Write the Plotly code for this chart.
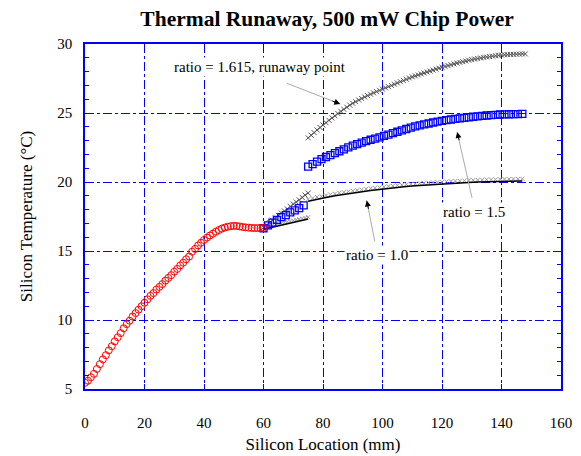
import plotly.graph_objects as go

# ---------------- data ----------------
# upstream region (0..60 mm), 1 mm sampling
x_up = list(range(0, 61))
t_up = [5.45, 5.60, 5.85, 6.10, 6.45, 6.80, 7.15, 7.45, 7.80, 8.10,
        8.45, 8.75, 9.05, 9.40, 9.70, 9.95, 10.25, 10.50, 10.75, 11.00,
        11.25, 11.50, 11.75, 11.95, 12.20, 12.40, 12.60, 12.85, 13.05, 13.25,
        13.50, 13.70, 13.95, 14.15, 14.40, 14.60, 14.95, 15.15, 15.40, 15.60,
        15.80, 15.97, 16.12, 16.26, 16.40, 16.52, 16.62, 16.70, 16.76, 16.80,
        16.82, 16.81, 16.78, 16.74, 16.71, 16.69, 16.67, 16.66, 16.66, 16.66,
        16.67]

# first downstream segment (60..75 mm)
x_s1_line = [60, 62, 64, 66, 68, 70, 72, 74, 75]
t_r10_s1_line = [16.58, 16.68, 16.78, 16.88, 16.98, 17.08, 17.18, 17.28, 17.32]
x_s1_hatch = [60, 61, 62, 63, 64, 65, 66, 67, 68, 69, 70, 71, 72, 73, 74, 75]
t_r10_s1_hatch = [16.70, 16.75, 16.80, 16.86, 16.91, 16.96, 17.01, 17.06, 17.11, 17.16,
                  17.21, 17.26, 17.31, 17.36, 17.41, 17.45]
t_r1615_s1 = [16.70, 16.88, 17.05, 17.23, 17.40, 17.58, 17.75, 17.90, 18.05, 18.23,
              18.40, 18.55, 18.70, 18.88, 19.05, 19.20]
x_r15_s1 = [60, 61.5, 63, 64.5, 66, 67.5, 69, 70.5, 72, 73.5]
t_r15_s1 = [16.65, 16.85, 17.05, 17.25, 17.45, 17.60, 17.80, 17.95, 18.10, 18.30]

# second downstream segment (75..148 mm)
x_r1615_s2 = list(range(75, 149))
t_r1615_s2 = [23.20, 23.39, 23.58, 23.77, 23.95, 24.13, 24.30, 24.47, 24.64, 24.80,
              24.96, 25.12, 25.27, 25.42, 25.57, 25.70, 25.82, 25.94, 26.05, 26.16,
              26.26, 26.36, 26.46, 26.55, 26.64, 26.73, 26.82, 26.91, 27.00, 27.09,
              27.18, 27.27, 27.36, 27.45, 27.54, 27.62, 27.69, 27.76, 27.83, 27.90,
              27.97, 28.04, 28.11, 28.18, 28.25, 28.32, 28.38, 28.44, 28.50, 28.56,
              28.62, 28.67, 28.72, 28.77, 28.82, 28.87, 28.91, 28.95, 28.99, 29.03,
              29.06, 29.09, 29.12, 29.15, 29.18, 29.20, 29.22, 29.23, 29.24, 29.25,
              29.26, 29.27, 29.28, 29.28]

x_s2_15 = [75 + 1.5 * i for i in range(49)]
t_r15_s2 = [21.11, 21.30, 21.48, 21.66, 21.81, 21.95, 22.09, 22.23, 22.37, 22.51,
            22.63, 22.74, 22.85, 22.96, 23.06, 23.15, 23.24, 23.34, 23.44, 23.54,
            23.64, 23.74, 23.84, 23.94, 24.03, 24.10, 24.17, 24.24, 24.31, 24.37,
            24.43, 24.48, 24.53, 24.57, 24.61, 24.65, 24.69, 24.73, 24.76, 24.79,
            24.82, 24.85, 24.87, 24.89, 24.90, 24.91, 24.92, 24.92, 24.93]
t_r10_s2_hatch = [18.75, 18.83, 18.91, 18.97, 19.03, 19.09, 19.15, 19.21, 19.26, 19.31,
                  19.36, 19.41, 19.45, 19.50, 19.54, 19.58, 19.61, 19.65, 19.69, 19.72,
                  19.76, 19.79, 19.82, 19.85, 19.87, 19.90, 19.92, 19.95, 19.97, 19.99,
                  20.01, 20.03, 20.05, 20.07, 20.09, 20.10, 20.12, 20.13, 20.15, 20.16,
                  20.17, 20.18, 20.19, 20.20, 20.21, 20.21, 20.22, 20.22, 20.23]

x_r10_s2_line = [75, 78, 81, 84, 87, 90, 93, 96, 99, 102, 105, 108, 111, 114, 117,
                 120, 123, 126, 129, 132, 135, 138, 141, 144, 147]
t_r10_s2_line = [18.60, 18.76, 18.88, 19.00, 19.11, 19.21, 19.30, 19.39, 19.46, 19.54,
                 19.61, 19.67, 19.72, 19.77, 19.82, 19.86, 19.90, 19.94, 19.97, 20.00,
                 20.02, 20.04, 20.06, 20.07, 20.08]

x_ticks = [0, 20, 40, 60, 80, 100, 120, 140, 160]
y_ticks = [5, 10, 15, 20, 25, 30]

title_text = "Thermal Runaway, 500 mW Chip Power"
x_title = "Silicon Location (mm)"
y_title = "Silicon Temperature (°C)"

# annotation labels and arrow ends (data coords)
note_text = ["ratio = 1.615, runaway point", "ratio = 1.5", "ratio = 1.0"]
note_xy = [(58.7, 28.35), (130.6, 17.83), (98.1, 14.71)]
arrow_tip = [(85.8, 25.65), (125.1, 23.62), (94.7, 18.66)]
arrow_tail = [(67.9, 27.15), (130.1, 18.85), (97.4, 15.7)]
head_off = [(-9.4, -3.5), (2.3, 9.7), (2.0, 9.8)]

FONT = "Liberation Serif, Times New Roman, serif"
BLUE = "#0000ff"

fig = go.Figure()

hatch_light = dict(symbol="x-thin", size=4, line=dict(width=1, color="#999999"))
hatch_dark = dict(symbol="x-thin", size=5, line=dict(width=1, color="#555555"))

# ratio 1.0
for xs, ys in [(x_s1_hatch, t_r10_s1_hatch), (x_s2_15, t_r10_s2_hatch)]:
    fig.add_trace(go.Scatter(x=xs, y=ys, mode="markers", marker=hatch_light,
                             showlegend=False, hoverinfo="skip"))
for xs, ys in [(x_s1_line, t_r10_s1_line), (x_r10_s2_line, t_r10_s2_line)]:
    fig.add_trace(go.Scatter(x=xs, y=ys, mode="lines", line=dict(color="black", width=1.5),
                             showlegend=False, hoverinfo="skip"))
# ratio 1.615
for xs, ys in [(x_s1_hatch, t_r1615_s1), (x_r1615_s2, t_r1615_s2)]:
    fig.add_trace(go.Scatter(x=xs, y=ys, mode="lines+markers",
                             line=dict(color="#888888", width=1), marker=hatch_dark,
                             showlegend=False, hoverinfo="skip"))
# ratio 1.5
for xs, ys in [(x_r15_s1, t_r15_s1), (x_s2_15, t_r15_s2)]:
    fig.add_trace(go.Scatter(x=xs, y=ys, mode="markers",
                             marker=dict(symbol="square-open", size=7, color=BLUE,
                                         line=dict(width=1.3, color=BLUE)),
                             showlegend=False, hoverinfo="skip"))
# upstream
fig.add_trace(go.Scatter(x=x_up, y=t_up, mode="markers",
                         marker=dict(symbol="circle-open", size=7, color="red",
                                     line=dict(width=1, color="red")),
                         showlegend=False, hoverinfo="skip"))

for txt, (tx, ty), (px, py), (qx, qy), (hx, hy) in zip(note_text, note_xy, arrow_tip,
                                                       arrow_tail, head_off):
    fig.add_annotation(x=tx, y=ty, text=txt, showarrow=False, bgcolor="white",
                       borderpad=1, font=dict(family=FONT, size=15, color="black"))
    fig.add_shape(type="line", xref="x", yref="y", x0=qx, y0=qy, x1=px, y1=py,
                  line=dict(color="#aaaaaa", width=1))
    fig.add_annotation(x=px, y=py, ax=hx, ay=hy, text="", showarrow=True,
                       arrowhead=2, arrowsize=1.2, arrowwidth=1, arrowcolor="black")

axis_common = dict(showline=True, linecolor=BLUE, linewidth=1.5, mirror="ticks",
                   showgrid=True, gridcolor=BLUE, gridwidth=1, griddash="dashdot",
                   zeroline=False, ticks="inside", tickcolor=BLUE, ticklen=5,
                   tickfont=dict(family=FONT, size=15, color="black"))

fig.update_xaxes(range=[0, 160], tickvals=x_ticks, ticklabelstandoff=19,
                 title=dict(text=x_title, font=dict(family=FONT, size=17, color="black"),
                            standoff=8),
                 **axis_common)
fig.update_yaxes(range=[5, 30], tickvals=y_ticks, ticklabelstandoff=8,
                 minor=dict(dtick=1, ticks="inside", ticklen=4, tickcolor=BLUE, showgrid=False),
                 title=dict(text=y_title, font=dict(family=FONT, size=17, color="black"),
                            standoff=20),
                 **axis_common)

fig.update_layout(
    width=581, height=456,
    margin=dict(l=85, r=20, t=44, b=67, autoexpand=False),
    plot_bgcolor="white", paper_bgcolor="white",
    title=dict(text="<b>" + title_text + "</b>", x=0.563, xanchor="center", y=0.96,
               yanchor="middle", font=dict(family=FONT, size=21.5, color="black")),
    showlegend=False,
)

fig.write_html("out.html")
